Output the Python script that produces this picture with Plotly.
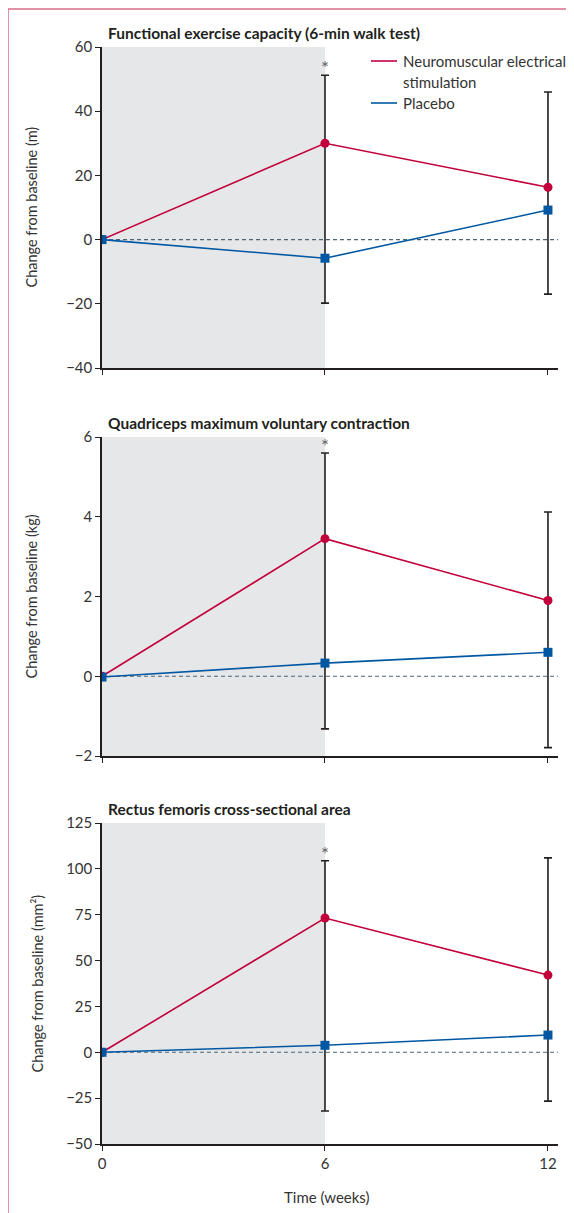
import plotly.graph_objects as go

weeks = [0, 6, 12]
ci_weeks = [6, 12]

titles = ["Functional exercise capacity (6-min walk test)",
          "Quadriceps maximum voluntary contraction",
          "Rectus femoris cross-sectional area"]
ytitles = ["Change from baseline (m)", "Change from baseline (kg)", "Change from baseline (mm²)"]
xtitle = "Time (weeks)"
legend_names = ["Neuromuscular electrical", "stimulation", "Placebo"]

nmes_walk = [0, 30.0, 16.3]
placebo_walk = [0, -5.8, 9.2]
upper_walk = [51.2, 46.0]
lower_walk = [-19.8, -17.0]

nmes_quad = [0, 3.45, 1.9]
placebo_quad = [-0.02, 0.33, 0.6]
upper_quad = [5.6, 4.12]
lower_quad = [-1.32, -1.79]

nmes_rf = [0, 73.2, 42.1]
placebo_rf = [0, 3.8, 9.4]
upper_rf = [104.4, 106.0]
lower_rf = [-32.0, -26.6]

yranges = [[-40, 60], [-2, 6], [-50, 125]]
ydticks = [20, 2, 25]

RED = "#c2003c"
BLUE = "#0058a3"
INK = "#231f20"
TXT = "#333333"
FONT = "Lato"

# page offset of the figure (body margin) and figure size
OFF = 8
W = 574 - OFF
H = 1213 - OFF
PLOT_L, PLOT_R = 102, 558          # page pixels of the plotting area
ML = PLOT_L - OFF
MR = W - (PLOT_R - OFF)
PW = PLOT_R - PLOT_L


def px_x(p):
    return (p - PLOT_L) / PW


def px_y(p):
    return 1 - (p - OFF) / H


# page pixel extents of each plotting area (top, bottom)
panels_px = [(47, 368), (437, 756), (823, 1144)]
ytitle_x_px = [31, 31, 37]
domains = [[px_y(b), px_y(t)] for t, b in panels_px]

series = [
    (nmes_walk, placebo_walk, upper_walk, lower_walk),
    (nmes_quad, placebo_quad, upper_quad, lower_quad),
    (nmes_rf, placebo_rf, upper_rf, lower_rf),
]

fig = go.Figure()
shapes = []
annotations = []

for i, (nm, pl, up, lo) in enumerate(series):
    n = i + 1
    xa = "x" if n == 1 else f"x{n}"
    ya = "y" if n == 1 else f"y{n}"
    mid = [(u + l) / 2 for u, l in zip(up, lo)]
    half = [(u - l) / 2 for u, l in zip(up, lo)]
    fig.add_trace(go.Scatter(
        x=ci_weeks, y=mid, mode="markers", xaxis=xa, yaxis=ya,
        marker=dict(size=1, color="rgba(0,0,0,0)"),
        error_y=dict(type="data", array=half, symmetric=True,
                     color=INK, thickness=1.6, width=4),
        showlegend=False, hoverinfo="skip"))
    fig.add_trace(go.Scatter(
        x=weeks, y=nm, mode="lines+markers", xaxis=xa, yaxis=ya,
        line=dict(color=RED, width=1.6),
        marker=dict(symbol="circle", size=9, color=RED),
        showlegend=False))
    fig.add_trace(go.Scatter(
        x=weeks, y=pl, mode="lines+markers", xaxis=xa, yaxis=ya,
        line=dict(color=BLUE, width=1.6),
        marker=dict(symbol="square", size=9, color=BLUE),
        showlegend=False))

    shapes.append(dict(type="rect", xref=xa, yref=f"{ya} domain",
                       x0=0, x1=6, y0=0, y1=1, fillcolor="#e6e7e9",
                       line=dict(width=0), layer="below"))
    shapes.append(dict(type="line", xref=f"{xa} domain", yref=ya,
                       x0=0, x1=1, y0=0, y1=0,
                       line=dict(color="#4d6676", width=1.1, dash="4px,3px"),
                       layer="below"))

    top_px = panels_px[i][0]
    annotations.append(dict(text=f"<b>{titles[i]}</b>", xref="paper", yref="paper",
                            x=px_x(106), y=px_y(top_px - 14.5), xanchor="left", yanchor="middle",
                            showarrow=False,
                            font=dict(family=FONT, size=15.5, color=INK)))
    annotations.append(dict(text=ytitles[i], xref="paper", yref="paper",
                            x=px_x(ytitle_x_px[i]), y=(domains[i][0] + domains[i][1]) / 2,
                            xanchor="center", yanchor="middle", textangle=-90,
                            showarrow=False,
                            font=dict(family=FONT, size=14.5, color=TXT)))
    annotations.append(dict(text="*", xref=xa, yref=ya, x=6, y=up[0],
                            yanchor="bottom", yshift=-6, showarrow=False,
                            font=dict(family=FONT, size=19, color="#666")))

    axis_common = dict(showline=True, linecolor=INK, linewidth=1.5,
                       ticks="outside", ticklen=5, tickwidth=1.3, tickcolor=INK,
                       showgrid=False, zeroline=False, automargin=False,
                       tickfont=dict(family=FONT, size=15, color=TXT))
    xkey = "xaxis" if n == 1 else f"xaxis{n}"
    ykey = "yaxis" if n == 1 else f"yaxis{n}"
    fig.update_layout({
        xkey: dict(axis_common, range=[0, 12.27], tickvals=weeks, domain=[0, 1],
                   anchor=ya, showticklabels=(n == 3)),
        ykey: dict(axis_common, range=yranges[i], dtick=ydticks[i], domain=domains[i],
                   anchor=xa),
    })

# x-axis title
annotations.append(dict(text=xtitle, xref="paper", yref="paper",
                        x=px_x(327), y=px_y(1197), xanchor="center", yanchor="middle",
                        showarrow=False, font=dict(family=FONT, size=15, color=TXT)))

# manual legend
leg_rows = [(61, RED, legend_names[0]), (82, None, legend_names[1]), (103, BLUE, legend_names[2])]
for ypx, col, name in leg_rows:
    if col:
        shapes.append(dict(type="line", xref="paper", yref="paper",
                           x0=px_x(371), x1=px_x(397), y0=px_y(ypx), y1=px_y(ypx),
                           line=dict(color=col, width=1.6)))
    annotations.append(dict(text=name, xref="paper", yref="paper",
                            x=px_x(401), y=px_y(ypx), xanchor="left", yanchor="middle",
                            showarrow=False, font=dict(family=FONT, size=15, color=TXT)))

# outer pink frame
FRAME = "#d96d8a"
shapes.append(dict(type="line", xref="paper", yref="paper", x0=px_x(8), x1=px_x(580),
                   y0=px_y(9), y1=px_y(9), line=dict(color=FRAME, width=1.5)))
shapes.append(dict(type="line", xref="paper", yref="paper", x0=px_x(8), x1=px_x(8),
                   y0=px_y(1220), y1=px_y(9), line=dict(color=FRAME, width=1.5)))

fig.update_layout(
    width=W, height=H,
    margin=dict(l=ML, r=MR, t=0, b=0, autoexpand=False),
    paper_bgcolor="white", plot_bgcolor="white",
    shapes=shapes, annotations=annotations,
    showlegend=False,
)

fig.write_html("out.html")
